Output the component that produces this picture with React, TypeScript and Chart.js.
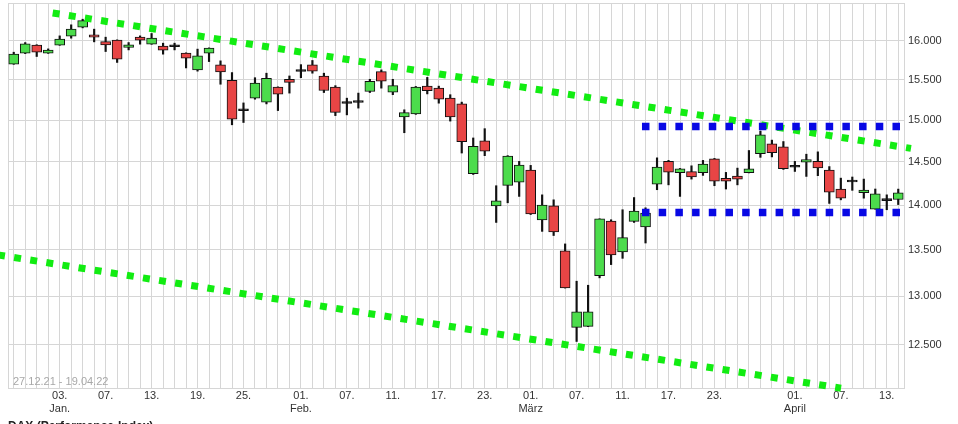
import React, { useEffect, useRef } from 'react';
import { Chart, registerables } from 'chart.js';

Chart.register(...registerables);

const dates = [
  '27.12.21', '28.12.21', '29.12.21', '30.12.21',
  '03.01.22', '04.01.22', '05.01.22', '06.01.22', '07.01.22',
  '10.01.22', '11.01.22', '12.01.22', '13.01.22', '14.01.22',
  '17.01.22', '18.01.22', '19.01.22', '20.01.22', '21.01.22',
  '24.01.22', '25.01.22', '26.01.22', '27.01.22', '28.01.22', '31.01.22',
  '01.02.22', '02.02.22', '03.02.22', '04.02.22',
  '07.02.22', '08.02.22', '09.02.22', '10.02.22', '11.02.22',
  '14.02.22', '15.02.22', '16.02.22', '17.02.22', '18.02.22',
  '21.02.22', '22.02.22', '23.02.22', '24.02.22', '25.02.22', '28.02.22',
  '01.03.22', '02.03.22', '03.03.22', '04.03.22',
  '07.03.22', '08.03.22', '09.03.22', '10.03.22', '11.03.22',
  '14.03.22', '15.03.22', '16.03.22', '17.03.22', '18.03.22',
  '21.03.22', '22.03.22', '23.03.22', '24.03.22', '25.03.22',
  '28.03.22', '29.03.22', '30.03.22', '31.03.22', '01.04.22',
  '04.04.22', '05.04.22', '06.04.22', '07.04.22', '08.04.22',
  '11.04.22', '12.04.22', '13.04.22', '14.04.22',
];

const openP = [
  15700, 15841, 15944, 15841, 15944, 16061, 16179, 16078, 15991, 16009,
  15915, 16048, 15957, 15931, 15950, 15841, 15627, 15841, 15690, 15495,
  15140, 15272, 15222, 15410, 15508, 15630, 15690, 15550, 15410, 15230,
  15242, 15355, 15605, 15347, 15042, 15077, 15422, 15397, 15272, 15202,
  14362, 14752, 13992, 14227, 14265, 14405, 13832, 13992, 13489, 12676,
  12687, 13220, 13820, 13478, 13817, 13754, 14242, 14507, 14374, 14386,
  14374, 14537, 14308, 14336, 14374, 14598, 14716, 14680, 14460, 14498,
  14507, 14405, 14185, 14288, 14142, 13956, 14074, 14065,
];
const highP = [
  15853, 15978, 15950, 15896, 16065, 16210, 16284, 16153, 16048, 16013,
  15978, 16065, 16096, 15970, 15970, 15845, 15893, 15909, 15742, 15593,
  15213, 15528, 15585, 15413, 15550, 15694, 15747, 15585, 15428, 15272,
  15335, 15508, 15627, 15508, 15128, 15418, 15532, 15422, 15315, 15223,
  14786, 14898, 14223, 14575, 14507, 14460, 14118, 14061, 13566, 13161,
  13118, 13846, 13835, 13948, 14087, 13970, 14549, 14519, 14424, 14455,
  14519, 14542, 14378, 14428, 14636, 14868, 14760, 14743, 14507, 14592,
  14620, 14446, 14311, 14324, 14300, 14185, 14118, 14184,
];
const lowP = [
  15698, 15835, 15798, 15838, 15942, 16035, 16170, 15987, 15862, 15722,
  15883, 15957, 15955, 15828, 15883, 15652, 15611, 15733, 15446, 14945,
  14973, 15259, 15201, 15119, 15335, 15528, 15585, 15342, 15057, 15066,
  15149, 15342, 15397, 15315, 14849, 15072, 15325, 15210, 14990, 14606,
  14354, 14575, 13805, 14027, 14100, 13894, 13705, 13659, 13088, 12532,
  12684, 13197, 13340, 13408, 13805, 13576, 14177, 14233, 14100, 14300,
  14343, 14223, 14185, 14233, 14372, 14555, 14560, 14413, 14389, 14331,
  14340, 14020, 14061, 14170, 14080, 13954, 13948, 14007,
];
const closeP = [
  15828, 15961, 15853, 15879, 16022, 16153, 16266, 16048, 15948, 15765,
  15948, 16009, 16035, 15879, 15926, 15778, 15805, 15905, 15602, 15015,
  15117, 15459, 15521, 15323, 15470, 15606, 15610, 15367, 15097, 15208,
  15220, 15483, 15483, 15428, 15094, 15410, 15364, 15259, 15040, 14740,
  14686, 14627, 14049, 14571, 14464, 13902, 14002, 13700, 13090, 12838,
  12838, 13846, 13445, 13636, 13934, 13911, 14440, 14382, 14421, 14324,
  14476, 14277, 14277, 14300, 14421, 14824, 14609, 14421, 14438, 14528,
  14431, 14150, 14080, 14266, 14173, 14130, 14052, 14142,
];

const yTicks = [12500, 13000, 13500, 14000, 14500, 15000, 15500, 16000];
const yMin = 12067;
const yMax = 16500;

const tickDates = [
  '03.01.22', '07.01.22', '13.01.22', '19.01.22', '25.01.22',
  '01.02.22', '07.02.22', '11.02.22', '17.02.22', '23.02.22',
  '01.03.22', '07.03.22', '11.03.22', '17.03.22', '23.03.22',
  '01.04.22', '07.04.22', '13.04.22',
];
const tickTexts = [
  ['03.', 'Jan.'], ['07.'], ['13.'], ['19.'], ['25.'],
  ['01.', 'Feb.'], ['07.'], ['11.'], ['17.'], ['23.'],
  ['01.', 'März'], ['07.'], ['11.'], ['17.'], ['23.'],
  ['01.', 'April'], ['07.'], ['13.'],
];

// trend lines, in (day index, value)
const upperTrend = [{ x: 3.39, y: 16367 }, { x: 78.11, y: 14661 }];
const lowerTrend = [{ x: -1.37, y: 13445 }, { x: 72.02, y: 12065 }];
const resistance = [{ x: 54.69, y: 14924 }, { x: 77.28, y: 14924 }];
const support = [{ x: 54.69, y: 13917 }, { x: 77.28, y: 13917 }];

const rangeText = '27.12.21 - 19.04.22';
const caption = 'DAX (Performance-Index)';

const GRID = '#d6d6d6';
const UP = '#4cdc4c';
const DOWN = '#e84545';
const TREND_GREEN = 'rgb(18,236,18)';
const TREND_BLUE = 'rgb(8,8,228)';

const fmt = (v: number) => String(Math.round(v)).replace(/\B(?=(\d{3})+(?!\d))/g, '.');

const framePlugin = {
  id: 'frame',
  beforeDatasetsDraw(chart: any) {
    const { ctx, chartArea: a } = chart;
    ctx.save();
    ctx.strokeStyle = GRID;
    ctx.lineWidth = 1;
    ctx.strokeRect(a.left + 0.5, a.top + 0.5, a.right - a.left, a.bottom - a.top);
    ctx.font = '11px "Liberation Sans", Arial, sans-serif';
    ctx.fillStyle = '#a8a8a8';
    ctx.textBaseline = 'middle';
    ctx.textAlign = 'left';
    ctx.fillText(rangeText, a.left + 5, a.bottom - 6.5);
    ctx.restore();
  },
  afterDraw(chart: any) {
    const { ctx } = chart;
    ctx.save();
    ctx.font = 'bold 12px "Liberation Sans", Arial, sans-serif';
    ctx.fillStyle = '#222';
    ctx.textBaseline = 'top';
    ctx.textAlign = 'left';
    ctx.fillText(caption, 8, 420.5);
    ctx.restore();
  },
};

export default function App() {
  const ref = useRef<HTMLCanvasElement | null>(null);

  useEffect(() => {
    if (!ref.current) return;
    const bodies = openP.map((o, i) => [o, closeP[i]]);
    const wicks = lowP.map((l, i) => [l, highP[i]]);
    const colors = openP.map((o, i) => {
      const c = closeP[i];
      if (Math.abs(c - o) < 25) return '#111';
      return c > o ? UP : DOWN;
    });
    const font = { family: '"Liberation Sans", Arial, sans-serif', size: 11 };
    const lineDs = (data: any, color: string, dash: number[], width: number, order: number) => ({
      type: 'line' as const,
      data,
      xAxisID: 'xl',
      yAxisID: 'y',
      borderColor: color,
      borderWidth: width,
      borderDash: dash,
      borderCapStyle: 'butt',
      pointRadius: 0,
      tension: 0,
      fill: false,
      clip: false,
      order,
    });

    const chart = new Chart(ref.current, {
      type: 'bar',
      data: {
        labels: dates,
        datasets: [
          lineDs(resistance, TREND_BLUE, [7.5, 9.2], 7.5, 0) as any,
          lineDs(support, TREND_BLUE, [7.5, 9.2], 7.5, 0) as any,
          lineDs(upperTrend, TREND_GREEN, [7, 9.3], 7, 1) as any,
          lineDs(lowerTrend, TREND_GREEN, [7, 9.3], 7, 1) as any,
          {
            type: 'bar',
            data: bodies as any,
            xAxisID: 'x',
            yAxisID: 'y',
            backgroundColor: colors,
            borderColor: '#111',
            borderWidth: 1,
            borderSkipped: false,
            barThickness: 10,
            grouped: false,
            order: 2,
          } as any,
          {
            type: 'bar',
            data: wicks as any,
            xAxisID: 'x',
            yAxisID: 'y',
            backgroundColor: '#111',
            borderWidth: 0,
            barThickness: 1.5,
            grouped: false,
            order: 3,
          } as any,
        ],
      },
      options: {
        responsive: false,
        animation: false,
        layout: { padding: { left: 8, top: 3, right: 0, bottom: 0 } },
        plugins: { legend: { display: false }, tooltip: { enabled: false } },
        scales: {
          x: {
            type: 'category',
            position: 'bottom',
            weight: 1,
            offset: true,
            grid: { color: GRID, offset: false, drawTicks: false },
            border: { display: false },
            ticks: {
              autoSkip: false,
              maxRotation: 0,
              minRotation: 0,
              padding: 2,
              color: '#333',
              font: { ...font, lineHeight: 1.15 },
              callback: (_v: any, index: number) => {
                const k = tickDates.indexOf(dates[index]);
                return k >= 0 ? tickTexts[k] : '';
              },
            },
            afterFit: (s: any) => {
              s.height = 36;
              s.paddingLeft = 0;
              s.paddingRight = 0;
            },
          },
          xl: {
            type: 'linear',
            position: 'bottom',
            weight: 0,
            display: true,
            min: -0.5,
            max: 77.5,
            offset: false,
            grid: { display: false, drawTicks: false },
            border: { display: false },
            ticks: { display: false },
            afterFit: (s: any) => {
              s.height = 0;
              s.paddingLeft = 0;
              s.paddingRight = 0;
            },
          },
          y: {
            type: 'logarithmic',
            position: 'right',
            min: yMin,
            max: yMax,
            grid: { color: GRID, drawTicks: false },
            border: { display: false },
            afterBuildTicks: (s: any) => {
              s.ticks = yTicks.map((v) => ({ value: v }));
            },
            ticks: {
              padding: 4,
              color: '#333',
              font,
              callback: (v: any) => fmt(Number(v)),
            },
            afterFit: (s: any) => {
              s.width = 54;
              s.paddingTop = 0;
              s.paddingBottom = 0;
            },
          },
        },
      } as any,
      plugins: [framePlugin],
    });
    return () => chart.destroy();
  }, []);

  return (
    <div style={{ position: 'fixed', left: 0, top: 0, width: 958, height: 424, background: '#fff' }}>
      <canvas ref={ref} width={958} height={424} style={{ display: 'block' }} />
    </div>
  );
}
